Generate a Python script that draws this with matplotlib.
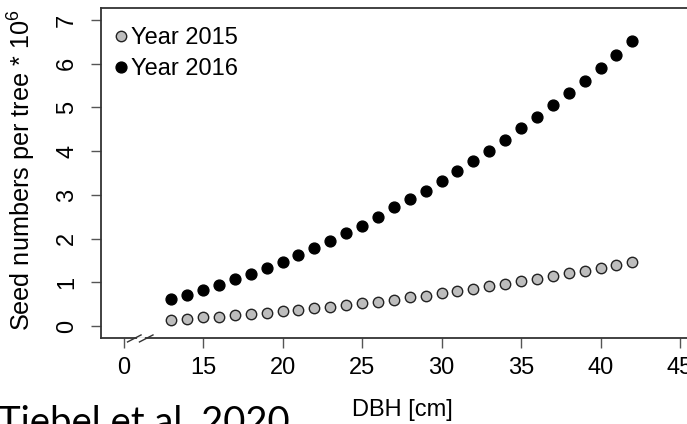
import numpy as np
import matplotlib
matplotlib.use("Agg")
import matplotlib.pyplot as plt

plt.rcParams['font.family'] = ['Liberation Sans', 'DejaVu Sans']
plt.rcParams['mathtext.default'] = 'regular'

# DBH [cm] and seed numbers per tree (* 10^6)
dbh = list(range(13, 43))
seeds_2015 = [0.14, 0.17, 0.20, 0.22, 0.25, 0.27, 0.31, 0.34, 0.38, 0.41,
              0.44, 0.49, 0.53, 0.56, 0.61, 0.66, 0.70, 0.76, 0.81, 0.85,
              0.91, 0.97, 1.03, 1.08, 1.14, 1.21, 1.27, 1.33, 1.40, 1.46]
seeds_2016 = [0.62, 0.72, 0.83, 0.95, 1.07, 1.20, 1.33, 1.47, 1.63, 1.78,
              1.94, 2.13, 2.30, 2.49, 2.72, 2.90, 3.10, 3.33, 3.55, 3.78,
              4.01, 4.26, 4.52, 4.78, 5.05, 5.32, 5.61, 5.90, 6.20, 6.51]

# x axis is broken: the "0" tick sits at position 10
xtick_pos = [10, 15, 20, 25, 30, 35, 40, 45]
xtick_lab = ['0', '15', '20', '25', '30', '35', '40', '45']
yticks = [0, 1, 2, 3, 4, 5, 6, 7]

fig = plt.figure(figsize=(6.87, 4.24), dpi=100)
ax = fig.add_axes([0.147, 0.2028, 0.853, 0.778])

ax.plot(dbh, seeds_2015, 'o', ms=7.5, mfc='#bdbdbd', mec='#222222', mew=1.0,
        label='Year 2015', clip_on=False)
ax.plot(dbh, seeds_2016, 'o', ms=7.8, mfc='black', mec='black',
        label='Year 2016', clip_on=False)

ax.set_xlim(8.58, 45.44)
ax.set_ylim(-0.27, 7.27)
ax.set_xticks(xtick_pos)
ax.set_xticklabels(xtick_lab)
ax.set_yticks(yticks)
ax.set_yticklabels([str(v) for v in yticks], rotation=90, va='center')

ax.tick_params(axis='both', length=7.5, width=1.0, color='#555555',
               labelsize=17)
ax.tick_params(axis='x', pad=6)
ax.tick_params(axis='y', pad=9)
for side in ['left', 'bottom', 'top']:
    ax.spines[side].set_color('#333333')
    ax.spines[side].set_linewidth(1.3)
ax.spines['right'].set_visible(False)

# axis break marks (//)
for x0 in [10.25, 11.0]:
    ax.plot([x0, x0 + 0.85], [-0.36, -0.20], color='#333333', lw=1.0,
            clip_on=False, zorder=5)
ax.plot([10.9, 11.2], [-0.27, -0.27], color='white', lw=2.0,
        clip_on=False, zorder=4)

leg = ax.legend(loc='upper left', frameon=False, fontsize=17,
                handletextpad=-0.1, handlelength=1.0, borderpad=0.2,
                labelspacing=0.38, bbox_to_anchor=(-0.014, 0.993))

fig.text(22 / 687, 1 - 170 / 424, 'Seed numbers per tree * 10$^6$',
         rotation=90, ha='center', va='center', fontsize=18.2)
fig.text(402 / 687, 1 - 416 / 424, 'DBH [cm]', ha='center',
         va='baseline', fontsize=17)
fig.text(-0.003, 1 - 434 / 424, 'Tiebel et al. 2020', ha='left',
         va='baseline', fontsize=27.5, family=['Lato', 'DejaVu Sans'])

fig.savefig('out.png', dpi=100)
